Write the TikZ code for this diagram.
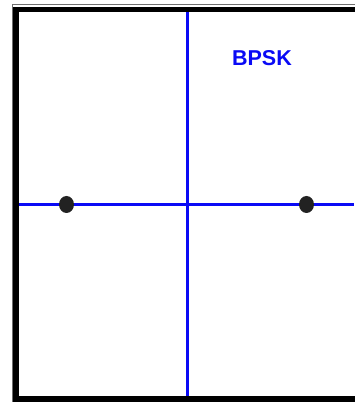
\documentclass[tikz,border=0pt]{standalone}
\usepackage{fontspec}
\setsansfont{Liberation Sans}
\usetikzlibrary{shapes.geometric,positioning}
\definecolor{bpskBlue}{RGB}{10,10,245}
\definecolor{bpskDot}{RGB}{34,34,34}
\definecolor{frameGray}{RGB}{110,110,110}
\tikzset{
  axisline/.style={draw=bpskBlue, line width=3pt},
  symboldot/.style={ellipse, fill=bpskDot, inner sep=0pt,
    minimum width=15pt, minimum height=17pt},
  thinframe/.style={draw=frameGray, line width=1.3pt},
  thickframe/.style={draw=black, line width=5.8pt},
  plotlabel/.style={font=\sffamily\bfseries\fontsize{21.5}{24}\selectfont, text=bpskBlue},
}
\begin{document}
\begin{tikzpicture}[x=1pt, y=1pt]
  \useasboundingbox (0,0) rectangle (354,402);
  \fill[white] (0,0) rectangle (354,402);

  % axes
  \coordinate (xleft) at (19,197.5);
  \coordinate (xright) at (354,197.5);
  \coordinate (ytop) at (187.5,390);
  \coordinate (ybottom) at (187.5,6);
  \draw[axisline] (xleft) -- (xright);
  \draw[axisline] (ybottom) -- (ytop);

  % constellation points
  \node[symboldot] (s0) at (66.5,197.5) {};
  \node[symboldot] (s1) at (306.5,197.5) {};

  \node[plotlabel] (title) at (262,344) {BPSK};

  % frame
  \draw[thinframe] (12.3,0) -- (12.3,397.5) -- (360,397.5);
  \draw[thickframe] (360,392.5) -- (16.3,392.5) -- (16.3,3) -- (360,3);
\end{tikzpicture}
\end{document}
